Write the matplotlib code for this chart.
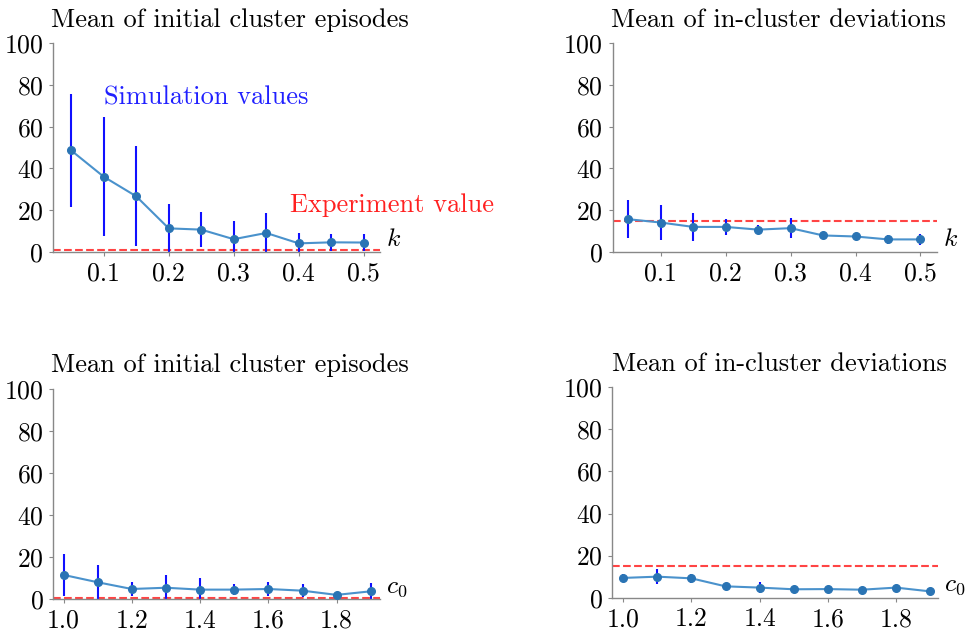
import matplotlib
matplotlib.use("Agg")
import matplotlib.pyplot as plt
import numpy as np

plt.rcParams['font.family'] = 'serif'
plt.rcParams['font.serif'] = ['cmr10']
plt.rcParams['mathtext.fontset'] = 'cm'
plt.rcParams['axes.formatter.use_mathtext'] = True

# parameter sweeps
k_vals = [0.05, 0.10, 0.15, 0.20, 0.25, 0.30, 0.35, 0.40, 0.45, 0.50]
c0_vals = [1.0, 1.1, 1.2, 1.3, 1.4, 1.5, 1.6, 1.7, 1.8, 1.9]

# mean of initial cluster episodes vs k
ep_k_mean = [48.6, 36.0, 26.6, 11.2, 10.6, 6.0, 9.0, 4.0, 4.5, 4.4]
ep_k_err = [27.0, 28.5, 24.0, 11.6, 8.3, 8.8, 9.7, 4.8, 4.2, 4.2]
# mean of in-cluster deviations vs k
dev_k_mean = [15.6, 14.0, 11.9, 11.9, 10.6, 11.3, 7.8, 7.3, 5.9, 5.9]
dev_k_err = [9.2, 8.5, 6.7, 4.0, 2.1, 4.8, 1.0, 1.5, 2.0, 2.5]
# mean of initial cluster episodes vs c0
ep_c_mean = [11.6, 8.1, 4.9, 5.5, 4.6, 4.6, 4.9, 4.1, 2.1, 3.8]
ep_c_err = [10.0, 8.0, 3.2, 6.2, 5.5, 2.5, 3.2, 3.0, 1.0, 3.8]
# mean of in-cluster deviations vs c0
dev_c_mean = [9.4, 10.0, 9.2, 5.4, 4.8, 4.0, 4.1, 3.8, 4.8, 3.0]
dev_c_err = [2.0, 3.5, 2.0, 1.0, 2.5, 0.8, 0.8, 0.8, 0.8, 1.2]

# experimental reference values
exp_episodes = 0.8
exp_deviation = 14.9

titles = ['Mean of initial cluster episodes', 'Mean of in-cluster deviations']

fig = plt.figure(figsize=(9.67, 6.39), dpi=100)
W, H = 967, 639

def make_ax(x0, x1, ytop, ybot):
    return fig.add_axes([x0 / W, 1 - ybot / H, (x1 - x0) / W, (ybot - ytop) / H])

axes = [make_ax(53, 380, 43.4, 251.7), make_ax(612.7, 936.7, 43.4, 251.7),
        make_ax(53.3, 380, 389, 599.3), make_ax(612.3, 938.3, 387.3, 597.7)]

panels = [
    (k_vals, ep_k_mean, ep_k_err, exp_episodes, titles[0], r'$k$', (0.022, 0.525), 0.54),
    (k_vals, dev_k_mean, dev_k_err, exp_deviation, titles[1], r'$k$', (0.026, 0.525), 0.512),
    (c0_vals, ep_c_mean, ep_c_err, exp_episodes, titles[0], r'$c_0$', (0.97, 1.927), 0.54),
    (c0_vals, dev_c_mean, dev_c_err, exp_deviation, titles[1], r'$c_0$', (0.968, 1.924), 0.512),
]

for ax, (x, m, e, ref, title, xl, xlim, tx) in zip(axes, panels):
    ax.errorbar(x, m, yerr=e, fmt='none', ecolor='#1010ff', elinewidth=1.5, zorder=2)
    ax.plot(x, m, color='#4a92cc', lw=1.5, zorder=3)
    ax.plot(x, m, 'o', color='#2a74b4', ms=5.5, zorder=4)
    ax.axhline(ref, color='#ff3030', ls='--', lw=1.5, alpha=0.9, zorder=1)
    ax.set_xlim(*xlim)
    ax.set_ylim(0, 100)
    ax.set_yticks([0, 20, 40, 60, 80, 100])
    for s in ['top', 'right']:
        ax.spines[s].set_visible(False)
    for s in ['left', 'bottom']:
        ax.spines[s].set_color('#888888')
        ax.spines[s].set_linewidth(1.0)
    ax.tick_params(labelsize=18.5, length=3, color='#888888', pad=4)
    ax.set_title(title, fontsize=19, pad=12, x=tx)
    ax.text(1.018, 0.06, xl, transform=ax.transAxes, fontsize=18.5, va='center')

axes[0].set_xticks([0.1, 0.2, 0.3, 0.4, 0.5])
axes[1].set_xticks([0.1, 0.2, 0.3, 0.4, 0.5])
axes[2].set_xticks([1.0, 1.2, 1.4, 1.6, 1.8])
axes[3].set_xticks([1.0, 1.2, 1.4, 1.6, 1.8])
for ax in axes:
    ax.xaxis.set_major_formatter(matplotlib.ticker.FormatStrFormatter('%.1f'))

axes[0].text(0.1, 74, 'Simulation values', color='#2020ff', fontsize=19, va='center')
axes[0].text(0.386, 22.4, 'Experiment value', color='#ff2020', fontsize=19, va='center',
             clip_on=False)

fig.savefig('out.png', dpi=100)
